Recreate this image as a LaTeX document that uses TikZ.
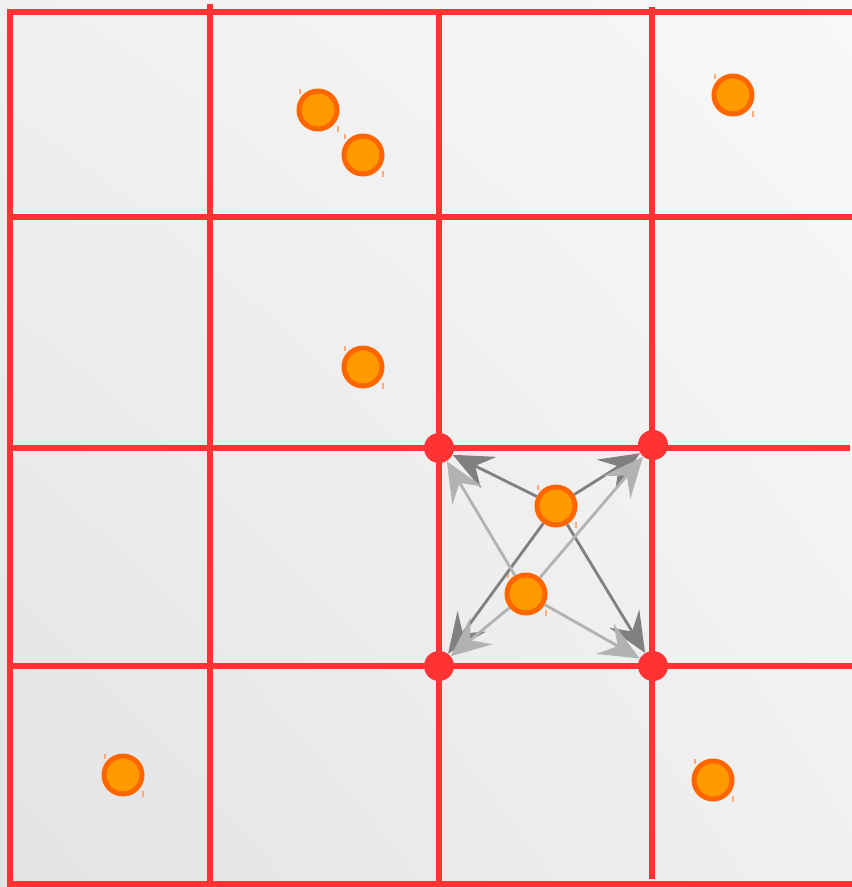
\documentclass[tikz,border=0pt]{standalone}
\usetikzlibrary{arrows.meta,shadings}
\definecolor{GridRed}{RGB}{255,51,51}
\definecolor{PointRing}{RGB}{255,102,0}
\definecolor{PointFill}{RGB}{255,153,0}
\definecolor{TickOrange}{RGB}{255,170,120}
\definecolor{DarkArrow}{RGB}{128,128,128}
\definecolor{LightArrow}{RGB}{178,178,178}
\definecolor{BackTL}{RGB}{240,240,240}
\definecolor{BackTR}{RGB}{248,248,248}
\definecolor{BackBL}{RGB}{227,227,227}
\definecolor{BackBR}{RGB}{240,240,240}
\tikzset{
  gridline/.style={draw=GridRed,line width=0.12cm},
  corner/.style={circle,fill=GridRed,minimum size=0.6cm,inner sep=0pt},
  point/.style={circle,draw=PointRing,fill=PointFill,line width=0.1cm,
    minimum size=0.76cm,inner sep=0pt},
  tickmark/.style={draw=TickOrange,line width=0.6pt},
  darkflow/.style={-{Stealth[length=8mm,width=7mm,inset=3mm]},line width=1.6pt,draw=DarkArrow},
  lightflow/.style={-{Stealth[length=8mm,width=7mm,inset=3mm]},line width=1.6pt,draw=LightArrow}
}

\begin{document}
\begin{tikzpicture}[x=0.02cm,y=-0.02cm]
  \useasboundingbox (0,0) rectangle (852,887);
  \shade[upper left=BackTL,upper right=BackTR,lower left=BackBL,lower right=BackBR]
    (0,0) rectangle (852,887);
  % grid
  \draw[gridline] (7,12) -- (852,12);
  \draw[gridline] (10,217) -- (852,217);
  \draw[gridline] (8,448) -- (850,448);
  \draw[gridline] (8,666) -- (852,666);
  \draw[gridline] (7,884) -- (852,884);
  \draw[gridline] (10,9) -- (10,887);
  \draw[gridline] (210,4) -- (210,884);
  \draw[gridline] (439,12) -- (439,884);
  \draw[gridline] (652,7) -- (652,879);
  % cell corners
  \node[corner] (tl) at (439,448) {};
  \node[corner] (tr) at (653,445) {};
  \node[corner] (bl) at (439,666) {};
  \node[corner] (br) at (653,666) {};
  % points
  \foreach \name/\x/\y in {p1/318/110,p2/363/155,p3/733/95,p4/363/367,
      p5/556/506,p6/526/594,p7/123/775,p8/713/780}{
    \node[point] (\name) at (\x,\y) {};
    \draw[tickmark] (\name) ++(-18,-21) -- ++(0,5);
    \draw[tickmark] (\name) ++(20,16) -- ++(0,6);
  }
  % arrows to the four corners
  \foreach \c in {tl,tr,bl,br}
    \draw[darkflow] (p5) -- (\c);
  \foreach \c in {tl,tr,bl,br}
    \draw[lightflow] (p6) -- (\c);
\end{tikzpicture}
\end{document}
